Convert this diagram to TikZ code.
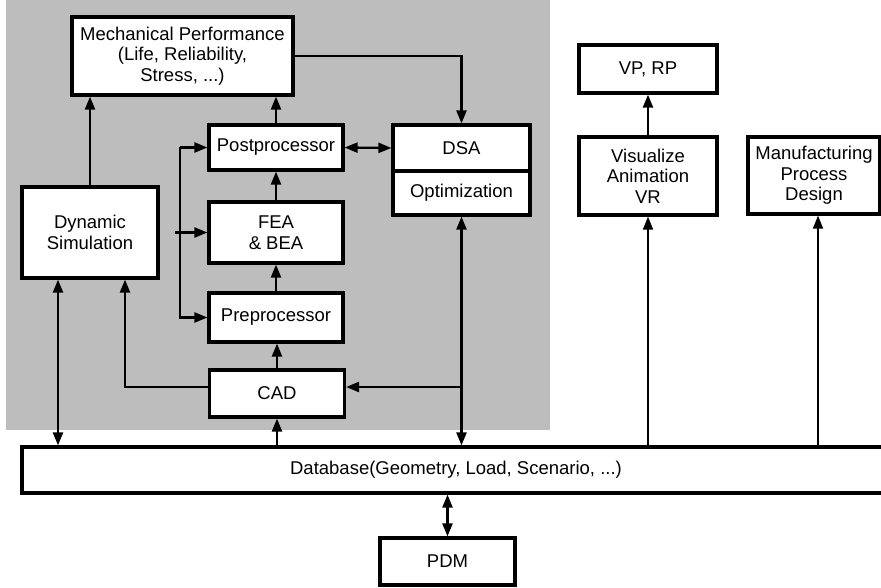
\documentclass[tikz,border=0pt]{standalone}
\usepackage{fontspec}
\setmainfont{Liberation Sans}
\usetikzlibrary{arrows.meta}
\begin{document}
\begin{tikzpicture}[x=1pt,y=-1pt,
  box/.style={draw=black,line width=3.2pt,fill=white,align=center,inner sep=0pt,
    font=\fontsize{18.5pt}{20.5pt}\selectfont},
  tip/.tip={Triangle[length=13pt,width=10pt]},
  arr/.style={line width=2.3pt,-tip},
  dbl/.style={line width=2.3pt,tip-tip},
  thinarr/.style={line width=1.5pt,-tip}]
\useasboundingbox (0,0) rectangle (881,588);
\fill[white] (0,0) rectangle (881,588);
\fill[black!26] (6,0) rectangle (550,430);
% nodes
\node[box,minimum width=221pt,minimum height=78pt] (mech) at (182.5,56) {Mechanical Performance\\(Life, Reliability,\\Stress, ...)};
\node[box,minimum width=134pt,minimum height=45pt] (post) at (276,147.5) {Postprocessor};
\node[box,minimum width=134pt,minimum height=61pt] (fea) at (276,232.5) {FEA\\\& BEA};
\node[box,minimum width=136pt,minimum height=91pt] (dyn) at (90,232.5) {Dynamic\\Simulation};
\node[box,minimum width=134pt,minimum height=49pt] (pre) at (276,317.5) {Preprocessor};
\node[box,minimum width=135pt,minimum height=47pt] (cad) at (277,393.5) {CAD};
\node[box,minimum width=137pt,minimum height=46pt] (dsa) at (461.5,148) {DSA};
\node[box,minimum width=137pt,minimum height=44pt] (opt) at (461.5,193) {Optimization};
\node[box,minimum width=138pt,minimum height=48pt] (vprp) at (648,69) {VP, RP};
\node[box,minimum width=138pt,minimum height=78pt] (vis) at (648,176) {Visualize\\Animation\\VR};
\node[box,minimum width=132pt,minimum height=77pt] (mfg) at (814,175.5) {Manufacturing\\Process\\Design};
\node[box,minimum width=868pt,minimum height=46pt] (db) at (456,470) {Database(Geometry, Load, Scenario, ...)};
\node[box,minimum width=135pt,minimum height=47pt] (pdm) at (447.5,561.5) {PDM};
% helper coordinates
\coordinate (bustop) at (180,147.5);
\coordinate (busstub) at (175,232.5);
\coordinate (cadline) at (0,387);
\coordinate (dl) at (58,0);
\coordinate (dr) at (125,0);
\coordinate (mfgin) at (818,214);
% connectors
\draw[arr] (dyn.north) -- (dyn.north |- mech.south);
\draw[arr] (post.north) -- (post.north |- mech.south);
\draw[arr] (fea.north) -- (fea.north |- post.south);
\draw[arr] (pre.north) -- (pre.north |- fea.south);
\draw[arr] (cad.north) -- (cad.north |- pre.south);
\draw[arr] (cad.south |- db.north) -- (cad.south);
\draw[arr] (mech.east) -| (dsa.north);
\draw[dbl] (post.east) -- (dsa.west);
\draw[arr] (bustop) -- (post.west);
\draw[arr] (bustop) |- (pre.west);
\draw[arr] (busstub) -- (fea.west);
\draw[dbl] (dyn.south -| dl) -- (db.north -| dl);
\draw[arr] (cad.west |- cadline) -| (dyn.south -| dr);
\draw[dbl] (opt.south) -- (opt.south |- db.north);
\draw[arr] (opt.south |- cadline) -- (cad.east |- cadline);
\draw[thinarr] (vis.south |- db.north) -- (vis.south);
\draw[thinarr] (mfgin |- db.north) -- (mfgin |- mfg.south);
\draw[arr] (vis.north) -- (vprp.south);
\draw[dbl] (pdm.north) -- (pdm.north |- db.south);
\end{tikzpicture}
\end{document}
